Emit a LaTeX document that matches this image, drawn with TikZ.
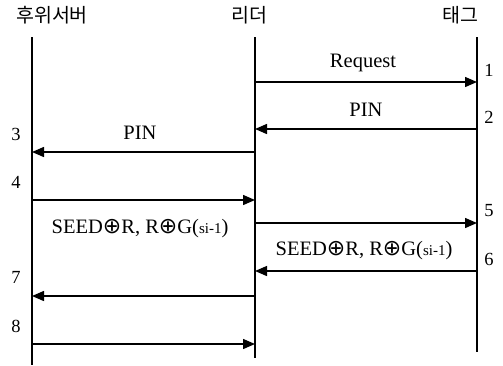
\documentclass[tikz,border=0pt]{standalone}
\usepackage{fontspec}
\setmainfont{Liberation Serif}
\newfontfamily\krfont{Noto Sans CJK KR}
\newfontfamily\symfont{DejaVu Sans}
\usetikzlibrary{arrows.meta}
\newcommand{\xor}{{\symfont\fontsize{22}{22}\selectfont\char"2295}}
\begin{document}
\begin{tikzpicture}[x=1pt,y=-1pt,
  life/.style={line width=1.5pt},
  msg/.style={line width=1.4pt,-{Triangle[length=12pt,width=10pt]}},
  lbl/.style={font=\fontsize{20.5}{22}\selectfont,inner sep=0pt},
  num/.style={font=\fontsize{18.5}{20}\selectfont,inner sep=0pt},
  head/.style={font=\krfont\fontsize{19.5}{22}\selectfont,inner sep=0pt}]
\useasboundingbox (0,0) rectangle (503,365);
% participants
\node[head] (hS) at (52,15) {후위서버};
\node[head] (hR) at (249,15) {리더};
\node[head] (hT) at (460,15) {태그};
% lifelines
\coordinate (sTop) at (32,37);   \coordinate (sBot) at (32,365);
\coordinate (rTop) at (255,37);  \coordinate (rBot) at (255,358);
\coordinate (tTop) at (477,37);  \coordinate (tBot) at (477,352);
\draw[life] (sTop) -- (sBot);
\draw[life] (rTop) -- (rBot);
\draw[life] (tTop) -- (tBot);
% message end points
\foreach \n/\y in {1/82,2/129,3/152,4/200,5/223,6/271,7/296,8/344}{
  \coordinate (s\n) at (32,\y);
  \coordinate (r\n) at (255,\y);
  \coordinate (t\n) at (477,\y);
}
\draw[msg] (r1) -- (t1);
\draw[msg] (t2) -- (r2);
\draw[msg] (r3) -- (s3);
\draw[msg] (s4) -- (r4);
\draw[msg] (r5) -- (t5);
\draw[msg] (t6) -- (r6);
\draw[msg] (r7) -- (s7);
\draw[msg] (s8) -- (r8);
% message labels
\node[lbl] (l1) at (363,63) {Request};
\node[lbl] (l2) at (366,110) {PIN};
\node[lbl] (l3) at (140,133) {PIN};
\node[lbl] (l5) at (140,229) {SEED\xor R, R\xor G({\fontsize{15}{16}\selectfont si-1})};
\node[lbl] (l6) at (364,251) {SEED\xor R, R\xor G({\fontsize{15}{16}\selectfont si-1})};
% step numbers
\node[num] (n1) at (489,70) {1};
\node[num] (n2) at (489,117) {2};
\node[num] (n3) at (16,134) {3};
\node[num] (n4) at (16,182) {4};
\node[num] (n5) at (489,211) {5};
\node[num] (n6) at (489,259) {6};
\node[num] (n7) at (16,277) {7};
\node[num] (n8) at (16,326) {8};
\end{tikzpicture}
\end{document}
